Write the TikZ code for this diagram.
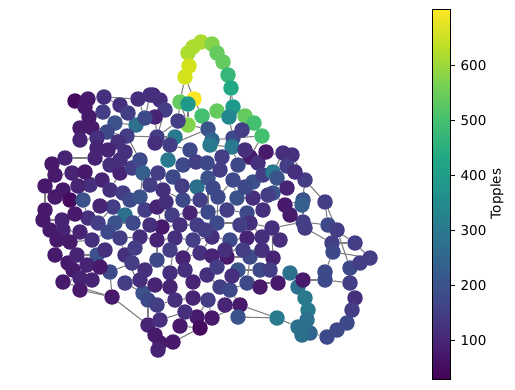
\documentclass[tikz,border=0pt]{standalone}
\usepackage{fontspec}
\setmainfont{DejaVu Sans}
\usetikzlibrary{backgrounds}

\definecolor{vA}{HTML}{440154}
\definecolor{vB}{HTML}{460B5E}
\definecolor{vC}{HTML}{481A6C}
\definecolor{vD}{HTML}{482475}
\definecolor{vE}{HTML}{46307E}
\definecolor{vF}{HTML}{433E85}
\definecolor{vG}{HTML}{3E4989}
\definecolor{vH}{HTML}{3B528B}
\definecolor{vI}{HTML}{355F8D}
\definecolor{vJ}{HTML}{32658E}
\definecolor{vK}{HTML}{2D708E}
\definecolor{vL}{HTML}{297A8E}
\definecolor{vM}{HTML}{24868E}
\definecolor{vO}{HTML}{1F9A8A}
\definecolor{vP}{HTML}{22A884}
\definecolor{vQ}{HTML}{35B779}
\definecolor{vR}{HTML}{44BF70}
\definecolor{vS}{HTML}{65CB5E}
\definecolor{vT}{HTML}{84D44B}
\definecolor{vU}{HTML}{ADDC30}
\definecolor{vV}{HTML}{D2E21B}
\definecolor{vW}{HTML}{FDE725}

\definecolor{cb0}{HTML}{440154}
\definecolor{cb1}{HTML}{482475}
\definecolor{cb2}{HTML}{414487}
\definecolor{cb3}{HTML}{355F8D}
\definecolor{cb4}{HTML}{2A788E}
\definecolor{cb5}{HTML}{21918C}
\definecolor{cb6}{HTML}{22A884}
\definecolor{cb7}{HTML}{44BF70}
\definecolor{cb8}{HTML}{7AD151}
\definecolor{cb9}{HTML}{BDDF26}
\definecolor{cb10}{HTML}{FDE725}

\tikzset{
  dot/.style={circle,inner sep=0pt,minimum size=15.5pt,draw=none},
  edge/.style={draw=black!50,line width=1.1pt},
  ticklabel/.style={anchor=west,inner sep=0pt,xshift=5pt,font=\fontsize{13.5}{16}\selectfont}
}

\begin{document}
\begin{tikzpicture}[x=1pt,y=-1pt]
\useasboundingbox (0,0) rectangle (515,389);

\foreach \x/\y/\c [count=\i] in {
201/42/U, 193/47/U, 212/44/T, 188/53/U, 217/53/S, 189/66/V, 223/62/S, 185/77/V, 228/75/Q, 231/88/P,
194/99/W, 180/102/S, 188/104/O, 217/111/S, 202/116/R, 233/107/O, 229/117/M, 245/116/S, 254/123/R, 262/136/R,
188/125/T, 178/121/F, 208/129/H, 233/138/G, 212/140/J, 175/137/L, 157/137/F, 153/95/D, 160/100/E, 165/110/F,
155/117/D, 75/101/B, 88/99/C, 104/97/E, 138/99/E, 150/95/E, 85/107/C, 103/112/F, 89/117/C, 92/128/C,
115/123/H, 136/125/K, 145/118/G, 107/132/G, 127/136/F, 97/138/E, 52/164/C, 65/158/D, 55/175/C, 72/173/D,
97/148/D, 95/158/D, 110/165/E, 120/173/D, 132/168/F, 140/160/G, 143/173/I, 102/180/D, 90/185/E, 63/190/C,
55/197/C, 70/200/B, 83/200/H, 110/190/E, 123/193/F, 130/200/G, 140/197/H, 45/210/C, 43/220/C, 62/220/D,
50/230/C, 63/230/D, 88/218/E, 98/223/F, 113/207/F, 125/215/K, 115/223/H, 133/223/G, 145/210/F, 57/240/C,
70/242/C, 92/240/E, 108/232/G, 120/238/F, 140/237/E, 68/263/C, 77/255/D, 97/255/H, 87/265/D, 73/270/C,
110/272/G, 100/267/C, 125/255/E, 132/263/F, 63/282/C, 80/278/D, 80/290/C, 112/297/C, 143/293/H, 148/300/G,
148/325/D, 168/160/L, 155/143/E, 170/145/F, 210/145/L, 232/147/L, 250/157/C, 222/157/F, 183/165/G, 158/173/F,
197/187/K, 163/190/E, 173/177/G, 208/178/H, 220/170/F, 238/165/G, 258/163/E, 233/180/G, 253/182/H, 263/175/F,
183/200/G, 200/200/F, 218/197/G, 237/198/H, 253/198/E, 157/207/D, 172/215/F, 190/213/D, 208/212/G, 227/210/F,
247/213/G, 263/210/E, 162/227/C, 180/225/E, 197/225/F, 217/223/G, 250/223/E, 157/240/D, 175/238/E, 193/240/F,
212/237/E, 230/240/G, 247/238/D, 262/237/E, 283/153/E, 292/155/E, 273/172/L, 277/178/H, 305/180/F, 287/188/D,
273/193/H, 285/205/C, 303/200/H, 302/205/I, 325/202/F, 303/222/F, 305/228/F, 328/225/G, 337/230/F, 332/243/F,
355/243/F, 272/228/E, 157/260/G, 183/258/D, 200/253/E, 227/257/C, 238/270/H, 260/270/G, 250/257/G, 170/273/E,
193/282/D, 207/275/E, 220/287/F, 230/290/G, 247/283/G, 170/287/D, 175/300/E, 193/298/D, 208/300/F, 240/305/C,
238/317/H, 157/305/F, 160/320/E, 197/317/C, 212/318/C, 200/328/B, 155/335/C, 160/343/C, 173/342/C, 158/350/D,
273/258/D, 290/273/K, 298/287/K, 303/280/C, 278/283/C, 325/272/G, 325/280/G, 350/268/G, 360/263/F, 370/258/F,
350/283/F, 355/298/E, 352/310/F, 347/323/G, 337/330/G, 327/337/G, 310/333/J, 302/335/K, 298/327/K, 305/298/L,
308/310/L, 307/320/K, 277/318/L, 333/252/G, 120/105/E, 128/113/F, 80/128/C, 118/142/E, 108/150/D, 80/140/D,
125/152/E, 85/172/C, 78/186/D, 45/186/C, 100/206/D, 75/214/C, 80/232/D, 105/250/E, 55/255/C, 92/280/D,
125/283/F, 135/248/F, 150/225/E, 150/185/F, 190/150/G, 196/162/F, 207/163/G, 245/150/E, 266/152/C, 182/186/F,
213/188/G, 245/187/G, 268/195/F, 166/202/E, 240/225/F, 205/230/F, 225/250/E, 243/250/F, 212/256/D, 262/250/E,
170/250/F, 145/270/E, 155/285/D, 185/270/E, 217/267/F, 232/276/E, 260/287/C, 185/312/E, 225/305/D, 180/326/C,
270/270/F, 242/130/F, 287/166/F, 295/172/E, 290/215/C, 280/240/E, 140/280/E, 120/160/E}
  \node[dot,fill=v\c] (v\i) at (\x,\y) {};

\begin{scope}[on background layer]
\foreach \a/\b in {
1/2, 1/3, 2/4, 3/5, 4/6, 5/7, 6/8, 7/9, 9/10, 8/12, 8/11, 10/16, 10/17, 11/13, 11/15, 12/21, 13/12, 13/21,
14/15, 14/18, 18/19, 19/20, 16/18, 17/24, 15/23, 12/22, 20/107, 21/23, 22/27,
32/33, 33/34, 32/37, 37/39, 39/40, 40/46, 38/41, 41/42, 42/43, 43/36, 44/45, 45/42, 46/44, 34/35, 35/43,
36/29, 28/29, 29/30, 30/31, 31/27, 27/26, 26/22, 23/25, 25/24, 24/20, 45/27, 34/38,
47/48, 47/49, 49/50, 48/52, 51/52, 52/53, 53/54, 54/55, 55/56, 56/57, 57/67, 58/59, 59/60, 60/61, 61/62,
62/63, 63/73, 64/65, 65/66, 66/67, 67/79, 68/69, 69/70, 70/71, 71/72, 72/80, 80/81, 81/82, 82/83, 83/84,
84/85, 73/74, 74/75, 75/76, 76/77, 77/78, 78/79, 86/87, 87/88, 88/89, 89/90, 90/86, 91/92, 92/89, 93/94,
94/91, 95/96, 96/97, 95/90, 97/98, 95/98, 91/98, 98/101, 93/99, 99/100, 100/101, 101/183, 101/187, 45/56,
46/51, 50/58, 58/64, 54/64, 57/110, 79/126, 85/138, 84/93, 82/88,
103/104, 104/102, 102/109, 109/113, 113/110, 110/112, 112/121, 121/122, 122/111, 111/114, 114/115, 115/108,
108/105, 105/106, 106/116, 116/117, 117/107, 107/120, 120/119, 119/118, 118/124, 124/125, 125/132, 132/131,
131/130, 130/129, 129/128, 128/127, 127/126, 126/133, 133/134, 134/135, 135/136, 136/137, 137/144, 144/143,
143/142, 142/141, 141/140, 140/139, 139/138, 138/163, 163/170, 170/176, 176/177, 177/182, 164/171, 171/172,
172/173, 173/174, 174/175, 175/169, 169/166, 166/165, 165/164, 167/168, 168/169, 178/179, 179/184, 185/179,
186/185, 177/178, 172/166, 25/105, 23/104, 30/103, 27/103, 24/106, 123/118, 123/136, 114/129, 141/165,
140/164, 139/170, 144/169, 143/166, 107/145, 120/148, 147/148, 148/150, 150/151, 151/152, 152/153, 153/154,
154/149, 147/145, 146/149, 132/151, 137/162, 162/191, 191/169, 175/195, 174/180, 181/213, 188/189, 186/189,
184/186, 182/183, 187/188, 188/190, 180/181, 185/180, 168/191,
145/149, 149/155, 155/159, 153/156, 156/158, 158/161, 157/160, 160/161, 158/159, 162/156, 161/200, 159/198,
198/201, 199/200, 200/214, 214/196, 196/197, 197/194, 197/201, 201/202, 202/203, 203/204, 204/205, 205/206,
206/207, 207/208, 208/209, 209/212, 212/211, 211/210, 210/193, 193/192, 192/195, 213/209, 195/191, 180/213,
155/158, 146/145,
215/34, 215/216, 216/41, 217/40, 218/45, 219/51, 220/46, 221/56, 222/50, 223/59, 224/68, 225/73, 226/70,
227/72, 228/88, 229/86, 230/96, 231/99, 232/85, 233/79, 234/57, 235/104, 236/109, 237/115, 238/106, 239/107,
240/111, 241/114, 242/119, 243/151, 244/112, 245/137, 246/136, 247/166, 248/169, 249/165, 250/191, 251/163,
252/94, 253/176, 254/164, 255/172, 256/167, 257/175, 258/183, 259/180, 260/186, 261/168, 262/24, 263/145,
264/146, 265/153, 266/162, 267/99, 268/54}
  \draw[edge] (v\a) -- (v\b);
\end{scope}

\foreach \k in {0,...,9} {
  \pgfmathtruncatemacro\kk{\k+1}
  \shade[bottom color=cb\k,top color=cb\kk] (432.3,{379-36.97*\k+0.2}) rectangle (450.3,{379-36.97*\kk-0.2});
}
\draw[line width=0.8pt] (432.3,9.3) rectangle (450.3,379);
\foreach \v in {100,200,...,600}
  \draw[line width=0.8pt] (450.3,{340.7-(\v-100)*0.55}) -- ++(4.9,0) node[ticklabel] {\v};
\node[rotate=90,font=\fontsize{13.5}{16}\selectfont] (topples) at (497,194) {Topples};
\end{tikzpicture}
\end{document}
